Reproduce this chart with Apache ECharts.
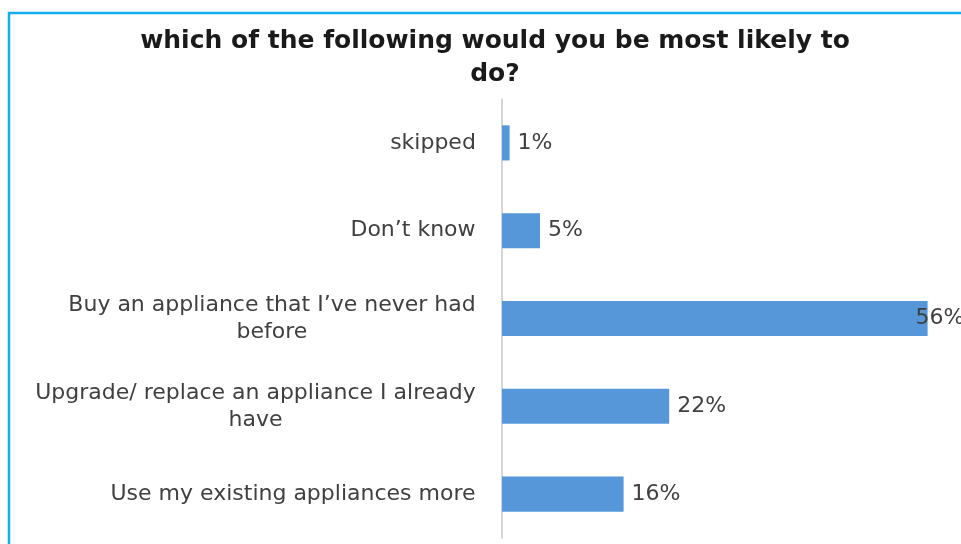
<!DOCTYPE html>
<html>
<head>
<meta charset="utf-8">
<script src="https://cdn.jsdelivr.net/npm/echarts@6/dist/echarts.min.js"></script>
<style>
  html, body { margin: 0; padding: 0; background: #ffffff; }
  #chart { width: 961px; height: 544px; }
</style>
</head>
<body>
<div id="chart"></div>
<script>
// Survey answers, top to bottom
const categories = [
  "skipped",
  "Don\u2019t know",
  "Buy an appliance that I\u2019ve never had\nbefore",
  "Upgrade/ replace an appliance I already\nhave",
  "Use my existing appliances more"
];
const shares = [1, 5, 56, 22, 16];
const titleText = "which of the following would you be most likely to\ndo?";

const LABEL_FONT = "DejaVu Sans";
const LABEL_SIZE = 22;

// Measure text so wrapped category names can be centred on their longest line
const measureCtx = document.createElement("canvas").getContext("2d");
measureCtx.font = LABEL_SIZE + "px '" + LABEL_FONT + "'";
const rich = {};
categories.forEach((name, i) => {
  const lines = name.split("\n");
  const w = Math.max(...lines.map(l => measureCtx.measureText(l).width));
  rich["c" + i] = {
    width: Math.ceil(w),
    align: "center",
    fontFamily: LABEL_FONT,
    fontSize: LABEL_SIZE,
    lineHeight: 27,
    color: "#404040"
  };
});

const chart = echarts.init(document.getElementById("chart"));

chart.setOption({
  animation: false,
  backgroundColor: "#ffffff",
  title: {
    text: titleText,
    left: 490,
    textAlign: "center",
    top: 20,
    textStyle: {
      fontFamily: "DejaVu Sans",
      fontWeight: "bold",
      fontSize: 25,
      lineHeight: 33,
      color: "#1a1a1a"
    }
  },
  graphic: [
    {
      type: "rect",
      shape: { x: 9, y: 13, width: 1000, height: 600 },
      style: { fill: "none", stroke: "#13aef0", lineWidth: 2.5 },
      silent: true
    }
  ],
  grid: { left: 502, top: 99, width: 456, bottom: 6 },
  xAxis: {
    type: "value",
    min: 0,
    max: 60,
    show: false
  },
  yAxis: {
    type: "category",
    data: categories,
    inverse: true,
    axisLine: { show: true, lineStyle: { color: "#c8c8c8", width: 1.5 } },
    axisTick: { show: false },
    axisLabel: {
      margin: 26,
      fontFamily: LABEL_FONT,
      fontSize: LABEL_SIZE,
      lineHeight: 27,
      color: "#404040",
      align: "right",
      rich: rich,
      formatter: (value, index) =>
        value.split("\n").map(l => "{c" + index + "|" + l + "}").join("\n")
    }
  },
  series: [
    {
      type: "bar",
      data: shares.map((v, i) => ({
        value: v,
        label: i === 2 ? { offset: [-20, 0] } : undefined
      })),
      barCategoryGap: "60%",
      itemStyle: { color: "#5597d8" },
      label: {
        show: true,
        position: "right",
        distance: 8,
        formatter: p => p.value + "%",
        fontFamily: LABEL_FONT,
        fontSize: LABEL_SIZE,
        color: "#404040"
      }
    }
  ]
});
</script>
</body>
</html>
